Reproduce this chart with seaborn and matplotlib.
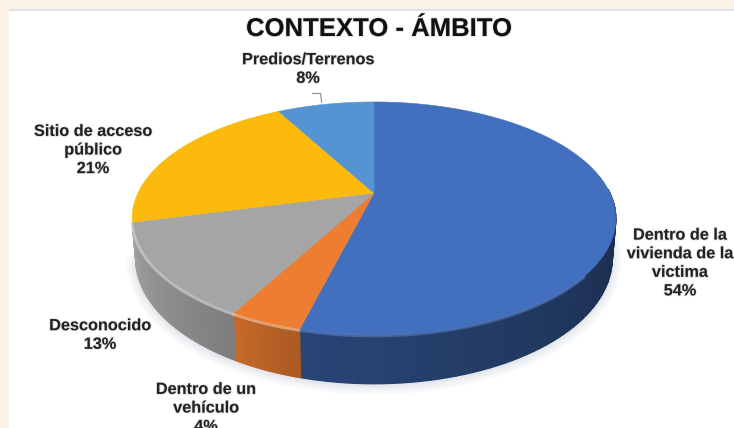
import numpy as np
import matplotlib
matplotlib.use('Agg')
import matplotlib.pyplot as plt
import matplotlib.patheffects as pe
from matplotlib.patches import Rectangle
import seaborn as sns

# values, clockwise from 12 o'clock
labels = ['Dentro de la\nvivienda de la\nvictima\n54%', 'Dentro de un\nvehículo\n4%', 'Desconocido\n13%',
          'Sitio de acceso\npúblico\n21%', 'Predios/Terrenos\n8%']
values = [54, 4, 13, 21, 8]
colors = ['#4270BF', '#ED7D31', '#A5A5A5', '#FBBA0C', '#5594D3']
label_pos = [(680, 263), (206, 408), (100, 335), (93, 150), (308, 69)]
wall_shade_left = [0.62, 0.84, 0.98, 1, 1]
wall_shade_right = [0.36, 0.72, 0.76, 1, 1]

sns.set_theme(style='white')
plt.rcParams['font.family'] = ['Liberation Sans', 'DejaVu Sans']
palette = sns.color_palette(colors)

# pie geometry, in pixels
cx, cy = 374, 193
radius = 236
persp = 0.219
squash = 111
wall = 38


def project(angle, drop=0.0):
    u = np.sin(angle)
    v = np.cos(angle)
    d = 1 + persp * v
    x = cx + radius * u / d * (1 - 0.015 * drop / wall)
    y = cy - squash * v / d + drop / d
    return x, y


fig, ax = plt.subplots(figsize=(7.34, 4.28), dpi=100)
fig.patch.set_facecolor('#FDF3E9')
ax.set_position([0, 0, 1, 1])
ax.set_xlim(0, 734)
ax.set_ylim(428, 0)
ax.axis('off')
ax.add_patch(Rectangle((9, 9), 740, 430, color='white', zorder=0))
ax.add_patch(Rectangle((9, 9), 740, 1.2, color='#E2E2E2', zorder=0))

edges = np.deg2rad(np.cumsum([0] + values) * 3.6)

# soft shadow under the pie
t = np.linspace(np.deg2rad(85), edges[3], 200)
sx, sy = project(t, wall)
for w in [14, 10, 6, 3]:
    ax.plot(sx, sy + 1, color='#7F8FA0', lw=w, alpha=0.05, zorder=1, solid_capstyle='round')

# wall, drawn as thin strips so the shade can change along it
for i, val in enumerate(values):
    a0, a1 = edges[i], edges[i + 1]
    lo = max(a0, np.deg2rad(88))
    hi = min(a1, edges[3])
    if hi <= lo:
        continue
    steps = np.linspace(lo, hi, 60)
    for j in range(len(steps) - 1):
        f = j / 58
        shade = wall_shade_right[i] + (wall_shade_left[i] - wall_shade_right[i]) * f
        col = tuple(c * shade for c in palette[i])
        seg = np.array([steps[j], steps[j + 1]])
        x_top, y_top = project(seg)
        x_bot, y_bot = project(seg, wall)
        ax.fill(np.r_[x_top, x_bot[::-1]], np.r_[y_top, y_bot[::-1]], facecolor=col, edgecolor=col, lw=0.9, zorder=2)

# top face
for i, val in enumerate(values):
    t = np.linspace(edges[i], edges[i + 1], 120)
    x, y = project(t)
    ax.fill(np.r_[cx, x], np.r_[cy, y], color=palette[i], lw=0.4, zorder=3)

# light rim along the front edge
for i in range(1, 3):
    t = np.linspace(edges[i], edges[i + 1], 60)
    x, y = project(t)
    ax.plot(x, y + 1, color=sns.light_palette(colors[i], 4)[1], lw=2.0, alpha=0.6, zorder=4)
t = np.linspace(np.deg2rad(130), edges[1], 80)
x, y = project(t)
ax.plot(x, y + 1, color='#6C90D0', lw=1.8, alpha=0.45, zorder=4)

# leader line for the small slice
lx, ly = project(np.deg2rad(345))
ax.plot([lx - 11, lx - 3, lx - 2], [ly - 11, ly - 11, ly - 2], color='#8C8C8C', lw=0.8, zorder=4)

halo = [pe.withStroke(linewidth=1.2, foreground='#999999', alpha=0.3)]
for lab, (px, py) in zip(labels, label_pos):
    ax.text(px, py, lab, ha='center', va='center', fontsize=11.7, fontweight='bold',
            color='#222222', linespacing=1.3, zorder=5, clip_on=True, path_effects=halo)

ax.text(379, 29, 'CONTEXTO - ÁMBITO', ha='center', va='center', fontsize=18.5,
        fontweight='bold', color='#111111', zorder=5, path_effects=halo)

fig.savefig('out.png', dpi=100, facecolor=fig.get_facecolor())
